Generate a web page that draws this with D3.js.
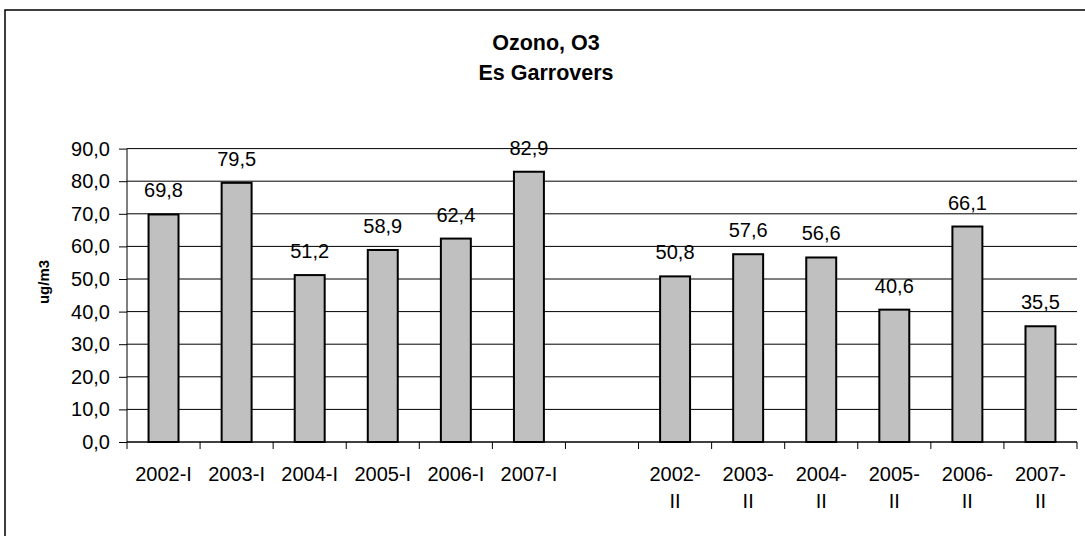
<!DOCTYPE html>
<html>
<head>
<meta charset="utf-8">
<script src="https://cdn.jsdelivr.net/npm/d3@7"></script>
<style>
  html, body { margin: 0; padding: 0; background: #fff; }
  svg { display: block; }
  text { font-family: "Liberation Sans", Arial, sans-serif; fill: #000; }
</style>
</head>
<body>
<svg id="chart" width="1085" height="536"></svg>
<script>
const categories = ["2002-I", "2003-I", "2004-I", "2005-I", "2006-I", "2007-I", " ",
                    "2002-II", "2003-II", "2004-II", "2005-II", "2006-II", "2007-II"];
const values = [69.8, 79.5, 51.2, 58.9, 62.4, 82.9, null,
                50.8, 57.6, 56.6, 40.6, 66.1, 35.5];
const yTicks = [0, 10, 20, 30, 40, 50, 60, 70, 80, 90];
const titleLines = ["Ozono, O3", "Es Garrovers"];
const yAxisTitle = "ug/m3";

const svg = d3.select("#chart");
const W = 1085, H = 536;
const plot = { left: 127, right: 1077, top: 148.6, bottom: 442 };

// outer chart frame
svg.append("rect")
  .attr("x", 5).attr("y", 10)
  .attr("width", W + 10).attr("height", H + 10)
  .attr("fill", "#fff").attr("stroke", "#000").attr("stroke-width", 1.5);

const x = d3.scaleBand().domain(categories).range([plot.left, plot.right]);
const y = d3.scaleLinear().domain([0, 90]).range([plot.bottom, plot.top]);
const fmt = v => d3.format(".1f")(v).replace(".", ",");

// gridlines
svg.append("g").selectAll("line").data(yTicks.filter(t => t > 0)).join("line")
  .attr("x1", plot.left).attr("x2", plot.right)
  .attr("y1", d => y(d)).attr("y2", d => y(d))
  .attr("stroke", "#000").attr("stroke-width", 1);

// y axis
const yAxis = d3.axisLeft(y).tickValues(yTicks).tickSize(8).tickPadding(9).tickFormat(fmt);
const gy = svg.append("g").attr("transform", `translate(${plot.left},0)`).call(yAxis);
gy.select(".domain").attr("stroke", "#000").attr("stroke-width", 1).attr("d", `M0,${plot.top}V${plot.bottom}`);
gy.selectAll(".tick line").attr("stroke", "#000");
gy.selectAll(".tick text").attr("font-size", 20).attr("font-family", '"Liberation Sans", Arial, sans-serif').attr("fill", "#000");

// bars
const barW = x.bandwidth() * 0.41;
svg.append("g").selectAll("rect").data(categories.map((c, i) => ({ c, v: values[i] })).filter(d => d.v != null))
  .join("rect")
  .attr("x", d => x(d.c) + (x.bandwidth() - barW) / 2)
  .attr("y", d => y(d.v))
  .attr("width", barW)
  .attr("height", d => y(0) - y(d.v))
  .attr("fill", "#c0c0c0").attr("stroke", "#000").attr("stroke-width", 2);

// value labels
svg.append("g").selectAll("text").data(categories.map((c, i) => ({ c, v: values[i] })).filter(d => d.v != null))
  .join("text")
  .attr("x", d => x(d.c) + x.bandwidth() / 2)
  .attr("y", d => y(d.v) - 17)
  .attr("text-anchor", "middle").attr("font-size", 20)
  .text(d => fmt(d.v));

// x axis baseline and ticks
svg.append("line")
  .attr("x1", plot.left).attr("x2", plot.right)
  .attr("y1", y(0)).attr("y2", y(0))
  .attr("stroke", "#000").attr("stroke-width", 1.5);
const boundaries = categories.map(c => x(c)).concat([plot.right]);
svg.append("g").selectAll("line").data(boundaries).join("line")
  .attr("x1", d => d).attr("x2", d => d)
  .attr("y1", y(0)).attr("y2", y(0) + 7)
  .attr("stroke", "#000").attr("stroke-width", 1);

// x labels (wrap "-II" labels to two lines)
const xl = svg.append("g").selectAll("text").data(categories.filter(c => c.trim() !== "")).join("text")
  .attr("x", d => x(d) + x.bandwidth() / 2)
  .attr("y", 481)
  .attr("text-anchor", "middle").attr("font-size", 20);
xl.each(function(d) {
  const t = d3.select(this);
  const lines = d.endsWith("-II") ? [d.slice(0, d.length - 2), "II"] : [d];
  lines.forEach((ln, i) => {
    t.append("tspan").attr("x", x(d) + x.bandwidth() / 2).attr("dy", i === 0 ? 0 : 27).text(ln);
  });
});

// title
svg.append("g").selectAll("text").data(titleLines).join("text")
  .attr("x", 546).attr("y", (d, i) => 50 + i * 30)
  .attr("text-anchor", "middle").attr("font-size", 21.5).attr("font-weight", "bold")
  .text(d => d);

// y axis title
svg.append("text")
  .attr("transform", `translate(49,282) rotate(-90)`)
  .attr("text-anchor", "middle").attr("font-size", 15).attr("font-weight", "bold")
  .text(yAxisTitle);
</script>
</body>
</html>
